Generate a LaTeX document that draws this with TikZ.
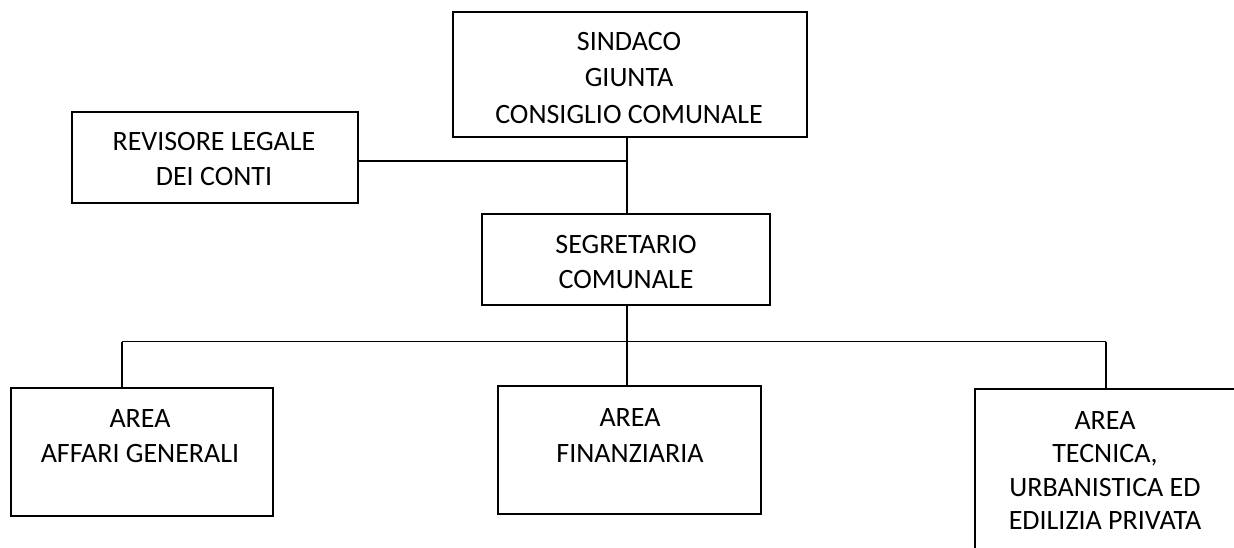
\documentclass[tikz,border=0pt]{standalone}
\usepackage{fontspec}
\setmainfont{Carlito}
\begin{document}
\begin{tikzpicture}[x=1pt,y=-1pt,
  box/.style={draw=black, line width=1.5pt, inner sep=0pt, outer sep=0pt, anchor=north west},
  txt/.style={anchor=base, inner sep=0pt, font=\fontsize{28}{32}\selectfont, text=black},
  conn/.style={draw=black, line width=1.5pt}]
\clip (0,0) rectangle (1234,548);
\fill[white] (0,0) rectangle (1234,548);
% boxes
\node[box, minimum width=354pt, minimum height=125pt] (top) at (453,12) {};
\node[box, minimum width=286pt, minimum height=91pt] (rev) at (72,112) {};
\node[box, minimum width=288pt, minimum height=91pt] (seg) at (482,214) {};
\node[box, minimum width=262pt, minimum height=128pt] (aff) at (11,388) {};
\node[box, minimum width=263pt, minimum height=128pt] (fin) at (498,386) {};
\node[box, minimum width=270pt, minimum height=200pt] (tec) at (975,389) {};
% texts
\node[txt] (t1) at (629,51) {SINDACO};
\node[txt] (t2) at (629,87) {GIUNTA};
\node[txt] (t3) at (629,123.5) {CONSIGLIO COMUNALE};
\node[txt] (r1) at (214,151) {REVISORE LEGALE};
\node[txt] (r2) at (214,186) {DEI CONTI};
\node[txt] (s1) at (626,254) {SEGRETARIO};
\node[txt] (s2) at (626,288) {COMUNALE};
\node[txt] (a1) at (140,427) {AREA};
\node[txt] (a2) at (140,462) {AFFARI GENERALI};
\node[txt] (f1) at (630,426) {AREA};
\node[txt] (f2) at (630,462) {FINANZIARIA};
\node[txt] (c1) at (1105,429) {AREA};
\node[txt] (c2) at (1105,462.5) {TECNICA,};
\node[txt] (c3) at (1105,496) {URBANISTICA ED};
\node[txt] (c4) at (1105,529.5) {EDILIZIA PRIVATA};
% junctions
\coordinate (j1) at (627,161);
\coordinate (jA) at (122,341.5);
\coordinate (jB) at (627,341.5);
\coordinate (jC) at (1106,341.5);
% connectors
\draw[conn] (top.south -| j1) -- (seg.north -| j1);
\draw[conn] (rev.east |- j1) -- (j1);
\draw[conn] (seg.south -| jB) -- (jB);
\draw[conn] (jA) -- (jC);
\draw[conn] (jA) -- (aff.north -| jA);
\draw[conn] (jB) -- (fin.north -| jB);
\draw[conn] (jC) -- (tec.north -| jC);
\end{tikzpicture}
\end{document}
